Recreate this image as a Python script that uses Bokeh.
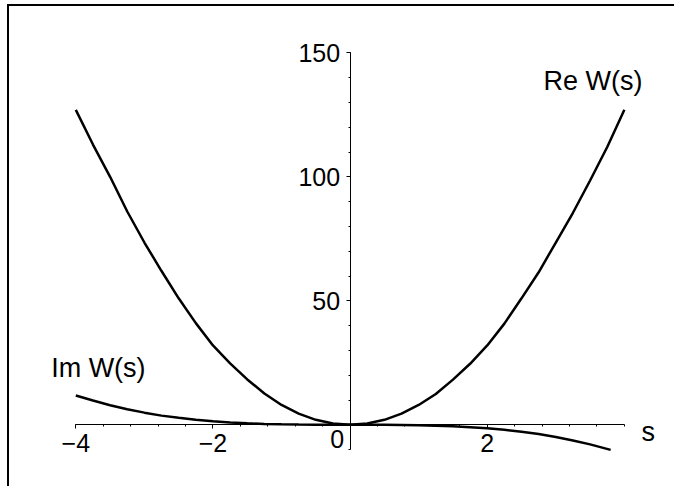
from bokeh.plotting import figure
from bokeh.models import LinearAxis, FixedTicker, Range1d
from bokeh.core.properties import value
from bokeh.embed import file_html
from bokeh.resources import INLINE

# ---- data ----
s_re = [-4.0, -3.75, -3.5, -3.25, -3.0, -2.75, -2.5, -2.25, -2.0, -1.75, -1.5, -1.25,
        -1.0, -0.75, -0.5, -0.25, 0.0, 0.25, 0.5, 0.75, 1.0, 1.25, 1.5, 1.75,
        2.0, 2.25, 2.5, 2.75, 3.0, 3.25, 3.5, 3.75, 4.0]
re_w = [127.0, 113.0, 100.0, 86.0, 73.5, 62.0, 51.0, 41.0, 32.0, 24.8, 18.3, 12.6,
        8.0, 4.5, 2.0, 0.5, 0.0, 0.5, 2.0, 4.5, 8.0, 12.4, 18.2, 24.6,
        32.0, 40.8, 51.0, 61.5, 73.5, 85.5, 98.5, 112.0, 127.0]

s_im = [-4.0, -3.75, -3.5, -3.25, -3.0, -2.75, -2.5, -2.25, -2.0, -1.75, -1.5, -1.25,
        -1.0, -0.75, -0.5, -0.25, 0.0, 0.25, 0.5, 0.75, 1.0, 1.25, 1.5, 1.75,
        2.0, 2.25, 2.5, 2.75, 3.0, 3.25, 3.5, 3.8]
im_w = [11.8, 9.8, 7.9, 6.3, 4.9, 3.7, 2.8, 2.0, 1.4, 0.95, 0.6, 0.35,
        0.18, 0.08, 0.02, 0.0, 0.0, 0.0, -0.02, -0.08, -0.18, -0.35, -0.6, -0.95,
        -1.4, -2.0, -2.8, -3.7, -4.9, -6.3, -7.9, -10.1]

x_major = [-4, -2, 2]
x_labels = ["\u22124", "\u22122", "2"]
x_minor = [-4.0, -3.6, -3.2, -2.8, -2.4, -2.0, -1.6, -1.2, -0.8, -0.4, 0.0,
           0.4, 0.8, 1.2, 1.6, 2.0, 2.4, 2.8, 3.2, 3.6, 4.0]
y_major = [50, 100, 150]
y_labels = ["50", "100", "150"]
y_minor = [-10, 0, 10, 20, 30, 40, 50, 60, 70, 80, 90, 100, 110, 120, 130, 140, 150]

curve_names = ["Re W(s)", "Im W(s)"]
curve_label_x = [2.82, -4.36]
curve_label_y = [135.5, 19.6]

# ---- layout (pixel mapping of the reference) ----
W, H = 667, 482
CX0, CY0 = 9, 6
PX_PER_S, PX_PER_V = 68.57, 2.48
S0_PX, V0_PX = 349.6, 424.3

x_range = Range1d((CX0 - S0_PX) / PX_PER_S, (CX0 + W - S0_PX) / PX_PER_S)
y_range = Range1d((V0_PX - (CY0 + H)) / PX_PER_V, (V0_PX - CY0) / PX_PER_V)

FONT = value("Liberation Sans")

p = figure(width=W, height=H, x_range=x_range, y_range=y_range,
           x_axis_location=None, y_axis_location=None,
           toolbar_location=None, output_backend="svg",
           min_border=0, outline_line_color=None,
           margin=(4, 0, 0, 7),
           styles={"border-top": "2px solid black", "border-left": "2px solid black"})
p.grid.visible = False

common = dict(axis_line_color="black", axis_line_width=1,
              major_tick_in=0, major_tick_out=4, minor_tick_in=0, minor_tick_out=2,
              major_tick_line_color="black", minor_tick_line_color="black",
              major_label_text_font="Liberation Sans", major_label_text_font_size="25px",
              major_label_text_color="black")

xaxis = LinearAxis(ticker=FixedTicker(ticks=x_major, minor_ticks=x_minor),
                   fixed_location=0, bounds=(-4, 4),
                   major_label_overrides=dict(zip(x_major, x_labels)),
                   major_label_standoff=5, **common)
yaxis = LinearAxis(ticker=FixedTicker(ticks=y_major, minor_ticks=y_minor),
                   fixed_location=0, bounds=(-10, 150),
                   major_label_overrides=dict(zip(y_major, y_labels)),
                   major_label_standoff=6, **common)
p.add_layout(xaxis, "below")
p.add_layout(yaxis, "left")

p.line(s_re, re_w, line_color="black", line_width=2.5)
p.line(s_im, im_w, line_color="black", line_width=2.5)

p.text(x=curve_label_x, y=curve_label_y, text=curve_names, text_font=FONT,
       text_font_size="27px", text_color="black", y_offset=-8,
       text_align="left", text_baseline="alphabetic")
p.text(x=[4.25], y=[-6.05], text=["s"], text_font=FONT, text_font_size="27px",
       text_color="black", y_offset=-8, text_align="left", text_baseline="alphabetic")
p.text(x=[0], y=[0], text=["0"], x_offset=-6, y_offset=14, text_font=FONT,
       text_font_size="25px", text_color="black",
       text_align="right", text_baseline="alphabetic")

open("out.html", "w").write(file_html(p, INLINE))
